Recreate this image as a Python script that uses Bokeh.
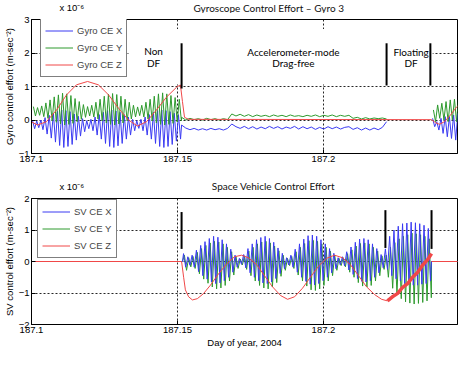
import numpy as np
from bokeh.plotting import figure
from bokeh.layouts import column
from bokeh.models import Legend, LegendItem, Label, BoxAnnotation, FixedTicker, Range1d
from bokeh.embed import file_html
from bokeh.resources import INLINE

# ------------------------------------------------------------------ data
x_ticks = [187.1, 187.15, 187.2]
x_tick_labels = ["187.1", "187.15", "187.2"]
top_y_ticks = [-1, 0, 1, 2, 3]
bot_y_ticks = [-2, -1, 0, 1, 2]

# ---- Gyroscope control effort (units of 1e-6 m/s^2)
# Non-drag-free burst: per-cycle peaks / troughs
gyro_b1_span = [187.1, 187.1514]
gyro_x_b1_hi = [-0.02, -0.03, 0.00, 0.07, 0.14, 0.21, 0.26, 0.30, 0.28, 0.25,
                0.18, 0.11, 0.04, -0.02, 0.02, 0.09, 0.16, 0.23, 0.28, 0.30,
                0.27, 0.23, 0.16, 0.09, 0.02, -0.02, 0.02, 0.09, 0.16, 0.23,
                0.28, 0.30, 0.28, 0.25, 0.20, 0.16]
gyro_x_b1_lo = [-0.26, -0.23, -0.29, -0.42, -0.54, -0.66, -0.76, -0.82, -0.79, -0.73,
                -0.60, -0.48, -0.35, -0.26, -0.32, -0.45, -0.57, -0.70, -0.79, -0.82,
                -0.77, -0.70, -0.57, -0.45, -0.32, -0.25, -0.32, -0.45, -0.57, -0.70,
                -0.79, -0.82, -0.79, -0.73, -0.63, -0.57]
gyro_y_b1_hi = [0.40, 0.37, 0.42, 0.51, 0.60, 0.69, 0.75, 0.80, 0.78, 0.73,
                0.64, 0.55, 0.46, 0.40, 0.44, 0.53, 0.62, 0.71, 0.77, 0.79,
                0.76, 0.71, 0.62, 0.53, 0.44, 0.39, 0.44, 0.53, 0.62, 0.71,
                0.78, 0.81, 0.78, 0.73, 0.67, 0.62]
gyro_y_b1_lo = [0.12, 0.14, 0.10, 0.05, -0.02, -0.07, -0.12, -0.15, -0.13, -0.10,
                -0.05, 0.02, 0.08, 0.12, 0.09, 0.03, -0.03, -0.09, -0.13, -0.15,
                -0.12, -0.09, -0.03, 0.03, 0.09, 0.13, 0.09, 0.03, -0.03, -0.09,
                -0.13, -0.15, -0.13, -0.10, -0.06, -0.03]

# Accelerometer-mode drag-free segment (sampled values)
gyro_acc_span = [187.1514, 187.2216]
gyro_x_acc = [-0.15, -0.24, -0.29, -0.25, -0.30, -0.26, -0.30, -0.25, -0.29, -0.26, -0.30, -0.25,
              -0.12, -0.20, -0.25, -0.19, -0.26, -0.20, -0.27, -0.21, -0.26, -0.19,
              -0.25, -0.20, -0.27, -0.21, -0.25, -0.19, -0.27, -0.20, -0.26, -0.21,
              -0.28, -0.22, -0.27, -0.20, -0.26, -0.21, -0.27, -0.22,
              -0.20, -0.28, -0.23, -0.30, -0.24, -0.30, -0.24, -0.29, -0.22, -0.05]
gyro_y_acc = [0.08, 0.00, 0.05, 0.01, 0.04, 0.00, 0.05, 0.01, 0.04, 0.00, 0.04, 0.01,
              0.18, 0.12, 0.17, 0.11, 0.16, 0.10, 0.15, 0.11, 0.14, 0.10,
              0.15, 0.11, 0.14, 0.10, 0.15, 0.11, 0.13, 0.10, 0.14, 0.11,
              0.15, 0.10, 0.14, 0.11, 0.15, 0.10, 0.14, 0.11,
              0.14, 0.05, 0.08, 0.03, 0.07, 0.03, 0.06, 0.04, 0.06, 0.03]

# Burst after floating drag-free
gyro_b3_span = [187.2370, 187.2514]
gyro_x_b3_hi = [0.05, -0.05, 0.05, 0.10, 0.10, 0.15, 0.20, 0.20, 0.25, 0.30]
gyro_x_b3_lo = [-0.20, -0.30, -0.40, -0.50, -0.55, -0.60, -0.68, -0.75, -0.80, -0.85]
gyro_y_b3_hi = [0.30, 0.45, 0.50, 0.55, 0.60, 0.62, 0.68, 0.72, 0.75, 0.78]
gyro_y_b3_lo = [-0.05, 0.05, 0.00, -0.05, 0.00, -0.05, -0.10, -0.05, -0.10, -0.10]

gyro_z_t = [187.1, 187.1021, 187.1051, 187.1086, 187.1120, 187.1154, 187.1192, 187.1229,
            187.1264, 187.1298, 187.1332, 187.1363, 187.1394, 187.1428, 187.1462, 187.1497,
            187.1510, 187.1517, 187.1524, 187.1538, 187.2370, 187.2384, 187.2397, 187.2414,
            187.2435, 187.2455, 187.2476, 187.2497, 187.2514]
gyro_z_y = [-0.06, -0.15, -0.05, 0.30, 0.75, 1.05, 1.15, 1.05,
            0.75, 0.35, 0.00, -0.18, -0.05, 0.30, 0.68, 0.98,
            1.05, 0.55, 0.08, 0.02, 0.01, -0.08, -0.13, -0.05,
            0.15, 0.38, 0.55, 0.70, 0.80]

# ---- Space vehicle control effort
sv_span = [187.1517, 187.2370]
sv_x_hi = [0.25, 0.15, 0.20, 0.36, 0.51, 0.63, 0.73, 0.80, 0.77, 0.69,
           0.56, 0.39, 0.20, 0.10, 0.22, 0.41, 0.56, 0.69, 0.76, 0.80,
           0.73, 0.61, 0.43, 0.26, 0.12, 0.20, 0.39, 0.56, 0.71, 0.82,
           0.84, 0.80, 0.69, 0.56, 0.41, 0.26, 0.12, 0.15, 0.31, 0.46,
           0.61, 0.71, 0.73, 0.69, 0.56, 0.41, 0.22, 0.40, 0.80, 1.00,
           1.12, 1.20, 1.22, 1.25, 1.23, 1.20, 1.15, 1.05]
sv_x_lo = [-0.18, -0.12, -0.18, -0.32, -0.45, -0.56, -0.65, -0.70, -0.68, -0.61,
           -0.50, -0.34, -0.18, -0.09, -0.20, -0.36, -0.50, -0.61, -0.68, -0.70,
           -0.65, -0.54, -0.38, -0.23, -0.11, -0.18, -0.34, -0.50, -0.63, -0.72,
           -0.74, -0.70, -0.61, -0.50, -0.36, -0.23, -0.11, -0.14, -0.27, -0.41,
           -0.54, -0.63, -0.65, -0.61, -0.50, -0.36, -0.20, -0.25, -0.45, -0.55,
           -0.62, -0.70, -0.72, -0.75, -0.75, -0.72, -0.70, -0.62]
sv_y_hi = [0.20, 0.12, 0.16, 0.29, 0.41, 0.51, 0.59, 0.64, 0.62, 0.56,
           0.45, 0.31, 0.16, 0.08, 0.18, 0.33, 0.45, 0.56, 0.62, 0.64,
           0.59, 0.49, 0.34, 0.20, 0.10, 0.16, 0.31, 0.45, 0.57, 0.66,
           0.67, 0.64, 0.56, 0.45, 0.33, 0.20, 0.10, 0.12, 0.25, 0.37,
           0.49, 0.57, 0.59, 0.56, 0.45, 0.33, 0.18, 0.20, 0.45, 0.60,
           0.72, 0.80, 0.85, 0.90, 0.88, 0.85, 0.80, 0.72]
sv_y_lo = [-0.28, -0.17, -0.22, -0.39, -0.56, -0.69, -0.81, -0.87, -0.84, -0.76,
           -0.62, -0.43, -0.22, -0.11, -0.25, -0.45, -0.62, -0.76, -0.84, -0.87,
           -0.81, -0.67, -0.47, -0.28, -0.13, -0.22, -0.43, -0.62, -0.78, -0.90,
           -0.92, -0.87, -0.76, -0.62, -0.45, -0.28, -0.13, -0.17, -0.34, -0.50,
           -0.67, -0.78, -0.81, -0.76, -0.62, -0.45, -0.25, -0.50, -0.85, -1.05,
           -1.18, -1.28, -1.32, -1.35, -1.33, -1.30, -1.25, -1.15]

sv_z_t = [187.1, 187.1514, 187.1521, 187.1527, 187.1538, 187.1551, 187.1568, 187.1589,
          187.1613, 187.1640, 187.1668, 187.1695, 187.1719, 187.1743, 187.1771, 187.1798,
          187.1825, 187.1853, 187.1877, 187.1901, 187.1928, 187.1955, 187.1983, 187.2010,
          187.2038, 187.2065, 187.2092, 187.2120, 187.2147, 187.2175, 187.2199, 187.2219]
sv_z_y = [0.0, 0.0, -0.50, -0.90, -1.12, -1.22, -1.18, -1.02,
          -0.75, -0.40, -0.08, 0.15, 0.20, 0.12, -0.10, -0.45,
          -0.80, -1.08, -1.20, -1.12, -0.85, -0.50, -0.15, 0.10,
          0.20, 0.12, -0.10, -0.45, -0.80, -1.05, -1.20, -1.25]
sv_z_ramp_t = [187.2219, 187.2236, 187.2253, 187.2271, 187.2288, 187.2305, 187.2322,
               187.2339, 187.2356, 187.2370]
sv_z_ramp_y = [-1.25, -1.12, -1.02, -0.82, -0.70, -0.50, -0.35, -0.12, 0.05, 0.25]
sv_z_after_t = [187.2370, 187.2514]
sv_z_after_y = [0.0, 0.0]

# mode-change markers
top_marker_t = [187.1514, 187.2216, 187.2366]
top_marker_lo = [0.94, 1.03, 1.03]
top_marker_hi = [2.29, 2.29, 2.29]
bot_marker_t = [187.1514, 187.2212, 187.2370]
bot_marker_lo = [0.40, 0.43, 0.40]
bot_marker_hi = [1.57, 1.63, 1.63]

top_title = "Gyroscope Control Effort \u2013 Gyro 3"
bot_title = "Space Vehicle Control Effort"
exponent_text = "x 10\u207b\u2076"

# ------------------------------------------------------------------ helpers
def zigzag(span, hi, lo, shift=0.0):
    n = len(hi)
    dt = (span[1] - span[0]) / n
    t, y = [], []
    for i in range(n):
        t += [span[0] + (i + 0.25 + shift) * dt, span[0] + (i + 0.75 + shift) * dt]
        y += [hi[i], lo[i]]
    return t, y


def sampled(span, vals):
    return list(np.linspace(span[0], span[1], len(vals))), list(vals)


NAN = float("nan")
BLUE = "#3a3af2"
GREEN = "#2e9a2e"
RED = "#f04848"
TICK_FONT = "Liberation Sans"
NOTE_FONT = "Lato"

W = 458
FW = 426            # frame width (px)
LEFT = 31
RIGHT = 1
x_end = 187.1 + FW / 2920.0
TOP_FH = 134
BOT_FH = 126
PLOT_TOP = 6


def header(height, title, ty, ey, tx):
    h = figure(width=W, height=height, x_range=Range1d(0, W), y_range=Range1d(0, height),
               output_backend="svg", toolbar_location=None,
               x_axis_location=None, y_axis_location=None,
               min_border_left=0, min_border_right=0, min_border_top=0, min_border_bottom=0)
    h.grid.visible = False
    h.outline_line_color = None
    h.background_fill_color = "white"
    h.border_fill_color = "white"
    h.add_layout(Label(x=tx, y=ty, text=title, text_align="center", text_baseline="middle",
                       text_font=NOTE_FONT, text_font_size="10px", text_color="#111111"))
    h.add_layout(Label(x=LEFT - 1, y=ey, text=exponent_text, text_align="left",
                       text_baseline="middle", text_font=TICK_FONT, text_font_size="9.5px",
                       text_color="black"))
    return h


def style(p, yticks):
    p.outline_line_color = "black"
    p.outline_line_alpha = 1
    for ax in (p.xaxis[0], p.yaxis[0]):
        ax.major_tick_in = 4
        ax.major_tick_out = 0
        ax.minor_tick_line_color = None
        ax.axis_line_color = "black"
        ax.major_tick_line_color = "black"
        ax.major_label_text_font = TICK_FONT
        ax.major_label_text_font_size = "9.5px"
        ax.major_label_text_color = "black"
        ax.axis_label_text_font = TICK_FONT
        ax.axis_label_text_font_size = "9.5px"
        ax.axis_label_text_font_style = "normal"
        ax.axis_label_text_color = "black"
        ax.major_label_standoff = 2
        ax.axis_label_standoff = 1
    p.xaxis.ticker = FixedTicker(ticks=x_ticks)
    p.xaxis.major_label_overrides = {t: s for t, s in zip(x_ticks, x_tick_labels)}
    p.yaxis.ticker = FixedTicker(ticks=yticks)
    for g in (p.xgrid[0], p.ygrid[0]):
        g.grid_line_color = "black"
        g.grid_line_dash = "2 2"
        g.grid_line_alpha = 0.85
        g.grid_line_width = 1
    p.xgrid.ticker = FixedTicker(ticks=[187.15, 187.2])
    p.background_fill_color = "white"
    p.border_fill_color = "white"


def make_legend(p, items, loc):
    lg = Legend(items=items, location=loc, orientation="vertical")
    lg.label_text_font = TICK_FONT
    lg.label_text_font_size = "9.5px"
    lg.glyph_width = 28
    lg.glyph_height = 15
    lg.label_height = 15
    lg.label_standoff = 4
    lg.padding = 4
    lg.spacing = 2
    lg.margin = 0
    lg.border_line_color = "black"
    lg.border_line_width = 1
    lg.background_fill_alpha = 1
    p.add_layout(lg)


# ------------------------------------------------------------------ top figure
h1 = header(13, top_title, 6, 6, 255)

p1 = figure(frame_width=FW, frame_height=TOP_FH,
            x_range=Range1d(187.1, x_end), y_range=Range1d(-1, 3),
            output_backend="svg", toolbar_location=None,
            min_border_left=LEFT, min_border_right=RIGHT, min_border_top=PLOT_TOP,
            min_border_bottom=17)
style(p1, top_y_ticks)
p1.ygrid.ticker = FixedTicker(ticks=[0, 1, 2])
p1.yaxis.axis_label = "Gyro control effort (m-sec\u207b\u00b2)"

t_a, y_a = zigzag(gyro_b1_span, gyro_x_b1_hi, gyro_x_b1_lo)
t_b, y_b = sampled(gyro_acc_span, gyro_x_acc)
t_c, y_c = zigzag(gyro_b3_span, gyro_x_b3_hi, gyro_x_b3_lo)
gx_t = t_a + t_b + [NAN] + t_c
gx_y = y_a + y_b + [NAN] + y_c

t_a, y_a = zigzag(gyro_b1_span, gyro_y_b1_hi, gyro_y_b1_lo, 0.2)
t_b, y_b = sampled(gyro_acc_span, gyro_y_acc)
t_c, y_c = zigzag(gyro_b3_span, gyro_y_b3_hi, gyro_y_b3_lo, 0.2)
gy_t = t_a + t_b + [NAN] + t_c
gy_y = y_a + y_b + [NAN] + y_c

r1x = p1.line(gx_t, gx_y, color=BLUE, line_width=1)
r1y = p1.line(gy_t, gy_y, color=GREEN, line_width=1)
r1z = p1.line(gyro_z_t, gyro_z_y, color=RED, line_width=1)

p1.add_layout(BoxAnnotation(left=187.1332, right=187.2374, bottom=1.06, top=2.72,
                            fill_color="white", fill_alpha=1, line_alpha=0))
p1.segment(x0=top_marker_t, y0=top_marker_lo, x1=top_marker_t, y1=top_marker_hi,
           color="black", line_width=2, level="overlay")

for txt, xx, yy in [("Non", 187.1418, 2.05), ("DF", 187.1418, 1.71),
                    ("Accelerometer-mode", 187.1897, 2.04), ("Drag-free", 187.1897, 1.71),
                    ("Floating", 187.2300, 2.04), ("DF", 187.2300, 1.71)]:
    p1.add_layout(Label(x=xx, y=yy, text=txt, text_align="center", text_baseline="middle",
                        text_font=NOTE_FONT, text_font_size="10px", text_color="black"))

make_legend(p1, [LegendItem(label="Gyro CE X", renderers=[r1x]),
                 LegendItem(label="Gyro CE Y", renderers=[r1y]),
                 LegendItem(label="Gyro CE Z", renderers=[r1z])], (9, TOP_FH - 1 - 57))

# ------------------------------------------------------------------ bottom figure
h2 = header(22, bot_title, 7, 6, 260)

p2 = figure(frame_width=FW, frame_height=BOT_FH,
            x_range=Range1d(187.1, x_end), y_range=Range1d(-2, 2),
            output_backend="svg", toolbar_location=None,
            min_border_left=LEFT, min_border_right=RIGHT, min_border_top=PLOT_TOP,
            min_border_bottom=24)
style(p2, bot_y_ticks)
p2.ygrid.ticker = FixedTicker(ticks=[-1, 0, 1])
p2.yaxis.axis_label = "SV control effort (m-sec\u207b\u00b2)"
p2.xaxis.axis_label = "Day of year, 2004"

t_a, y_a = zigzag(sv_span, sv_x_hi, sv_x_lo)
sx_t = [187.1, sv_span[0]] + t_a + [sv_span[1], x_end]
sx_y = [0.0, 0.0] + y_a + [0.0, 0.0]
t_a, y_a = zigzag(sv_span, sv_y_hi, sv_y_lo, 0.2)
sy_t = [187.1, sv_span[0]] + t_a + [sv_span[1], x_end]
sy_y = [0.0, 0.0] + y_a + [0.0, 0.0]

r2y = p2.line(sy_t, sy_y, color=GREEN, line_width=1)
r2x = p2.line(sx_t, sx_y, color=BLUE, line_width=1)
r2z = p2.line(sv_z_t, sv_z_y, color=RED, line_width=1)
p2.line(sv_z_ramp_t, sv_z_ramp_y, color=RED, line_width=3.5)
p2.line(sv_z_after_t, sv_z_after_y, color=RED, line_width=1)
p2.segment(x0=bot_marker_t, y0=bot_marker_lo, x1=bot_marker_t, y1=bot_marker_hi,
           color="black", line_width=2, level="overlay")

make_legend(p2, [LegendItem(label="SV CE X", renderers=[r2x]),
                 LegendItem(label="SV CE Y", renderers=[r2y]),
                 LegendItem(label="SV CE Z", renderers=[r2z])], (6, BOT_FH - 3 - 57))

layout = column(h1, p1, h2, p2, spacing=0)
open("out.html", "w").write(file_html(layout, INLINE))
